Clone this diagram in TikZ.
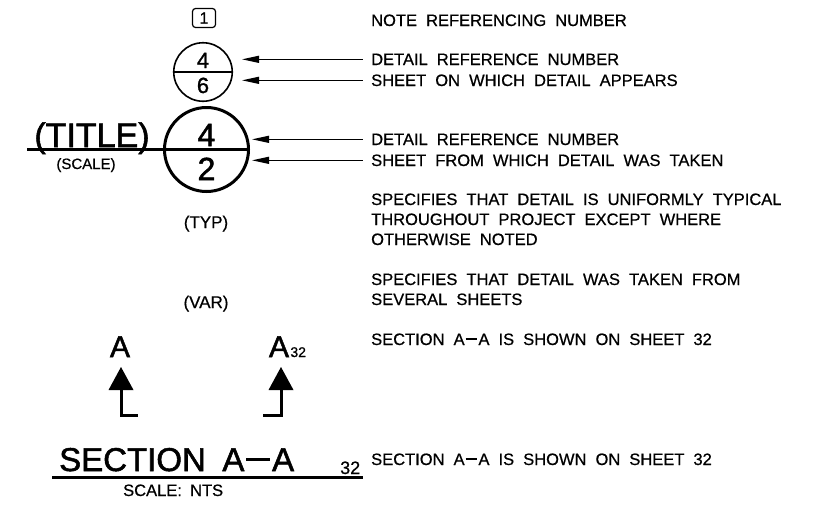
\documentclass[tikz,border=0pt]{standalone}
\usepackage{fontspec}
\setmainfont{Liberation Sans}[FakeBold=0.6]
\newfontfamily\heavy{Liberation Sans}[FakeBold=1.6]
\newfontfamily\medium{Liberation Sans}[FakeBold=1.1]
\usetikzlibrary{arrows.meta}
\newcommand\widesp[1]{\spaceskip=#1em\relax}
\newcommand\descfont{\fontsize{16.5}{20}\selectfont\widesp{0.55}}
\newcommand\cadash{\kern0.06em\rule[0.31em]{0.72em}{0.085em}\kern0.06em}
\tikzset{
  desc/.style={anchor=base west, inner xsep=8pt, inner ysep=0pt, font=\descfont},
  lbl/.style={anchor=base, inner sep=0pt},
  ldr/.style={line width=1.2pt, {Triangle[length=17pt,width=7pt]}-},
  thick3/.style={line width=3pt},
}
\begin{document}
\begin{tikzpicture}[x=1pt,y=-1pt]
\useasboundingbox[fill=white] (0,0) rectangle (834,504);

% note number box
\node[draw, line width=1.2pt, rounded corners=3pt, minimum width=23pt, minimum height=19pt,
  inner sep=0pt, font=\fontsize{16}{16}\selectfont] (box) at (204,18) {1};

% small detail circle
\node[draw, circle, line width=1.6pt, minimum size=58.5pt, inner sep=0pt] (sc) at (203,72) {};
\draw[line width=1.6pt] (sc.west) -- (sc.east);
\node[lbl, font=\medium\fontsize{22}{22}\selectfont] (sc4) at (203,68) {4};
\node[lbl, font=\medium\fontsize{22}{22}\selectfont] (sc6) at (203,93) {6};

% big detail circle
\node[draw, circle, thick3, minimum size=84pt, inner sep=0pt] (bc) at (206.5,149.5) {};
\coordinate (tl) at (27,149.5);
\draw[thick3] (tl) -- (bc.east);
\node[lbl, font=\heavy\fontsize{32}{32}\selectfont] (bc4) at (206.5,146) {4};
\node[lbl, font=\heavy\fontsize{32}{32}\selectfont] (bc2) at (206.5,180) {2};
\node[lbl, font=\heavy\fontsize{34}{34}\selectfont] (title) at (92,147) {(TITLE)};
\node[lbl, font=\fontsize{15}{15}\selectfont] (scale) at (86,169) {(SCALE)};

% descriptions
\node[desc] (d0) at (363,26) {NOTE REFERENCING NUMBER};
\node[desc] (d1) at (363,65) {DETAIL REFERENCE NUMBER};
\node[desc] (d2) at (363,86) {SHEET ON WHICH DETAIL APPEARS};
\node[desc] (d3) at (363,145) {DETAIL REFERENCE NUMBER};
\node[desc] (d4) at (363,166) {SHEET FROM WHICH DETAIL WAS TAKEN};
\node[desc] (d5) at (363,205) {SPECIFIES THAT DETAIL IS UNIFORMLY TYPICAL};
\node[desc] (d6) at (363,225) {THROUGHOUT PROJECT EXCEPT WHERE};
\node[desc] (d7) at (363,245) {OTHERWISE NOTED};
\node[desc] (d8) at (363,285) {SPECIFIES THAT DETAIL WAS TAKEN FROM};
\node[desc] (d9) at (363,305) {SEVERAL SHEETS};
\node[desc] (d10) at (363,345) {SECTION A\cadash A IS SHOWN ON SHEET 32};
\node[desc] (d11) at (363,465) {SECTION A\cadash A IS SHOWN ON SHEET 32};

% leaders
\coordinate (tipS) at (242,0);
\coordinate (tipB) at (252,0);
\draw[ldr] (d1.west -| tipS) -- (d1.west);
\draw[ldr] (d2.west -| tipS) -- (d2.west);
\draw[ldr] (d3.west -| tipB) -- (d3.west);
\draw[ldr] (d4.west -| tipB) -- (d4.west);

% typ / var
\node[lbl, font=\fontsize{17}{17}\selectfont] (typ) at (206,228) {(TYP)};
\node[lbl, font=\fontsize{17}{17}\selectfont] (var) at (206,308) {(VAR)};

% section cut markers
\node[lbl, font=\heavy\fontsize{30}{30}\selectfont] (aL) at (120,357) {A};
\node[lbl, font=\heavy\fontsize{30}{30}\selectfont] (aR) at (279,357) {A};
\node[anchor=base west, inner sep=0pt, font=\fontsize{14}{14}\selectfont] (aR32) at (aR.base east) {\kern1pt 32};
\fill (121,367) -- (108.5,390) -- (133.5,390) -- cycle;
\draw[thick3, line join=miter] (121,389) -- (121,415) -- (138,415);
\fill (281,367) -- (268.5,390) -- (293.5,390) -- cycle;
\draw[thick3, line join=miter] (281,389) -- (281,415) -- (263,415);

% section title
\node[anchor=base west, inner sep=0pt, font=\heavy\fontsize{33}{33}\selectfont\widesp{0.5}] (sec) at (59,471) {SECTION A\cadash A};
\node[anchor=base west, inner sep=0pt, font=\fontsize{18}{18}\selectfont] (sec32) at (340,474) {32};
\coordinate (sl) at (52,477.5);
\coordinate (sr) at (363,477.5);
\draw[thick3] (sl) -- (sr);
\node[anchor=base west, inner sep=0pt, font=\fontsize{16.5}{16.5}\selectfont\widesp{0.5}] (nts) at (123,496) {SCALE: NTS};
\end{tikzpicture}
\end{document}
